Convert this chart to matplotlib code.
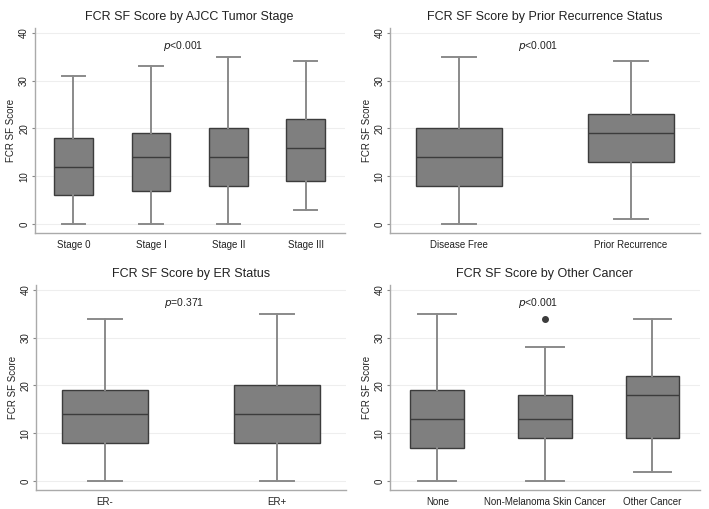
import matplotlib
matplotlib.use('Agg')
import matplotlib.pyplot as plt

plt.rcParams['font.family'] = ['Liberation Sans', 'DejaVu Sans']

# five-number summaries: low whisker, q1, median, q3, high whisker
stage_labels = ['Stage 0', 'Stage I', 'Stage II', 'Stage III']
stage_stats = [[0, 6, 12, 18, 31], [0, 7, 14, 19, 33], [0, 8, 14, 20, 35], [3, 9, 16, 22, 34]]

recur_labels = ['Disease Free', 'Prior Recurrence']
recur_stats = [[0, 8, 14, 20, 35], [1, 13, 19, 23, 34]]

er_labels = ['ER-', 'ER+']
er_stats = [[0, 8, 14, 19, 34], [0, 8, 14, 20, 35]]

cancer_labels = ['None', 'Non-Melanoma Skin Cancer', 'Other Cancer']
cancer_stats = [[0, 7, 13, 19, 35], [0, 9, 13, 18, 28], [2, 9, 18, 22, 34]]
cancer_outliers = [[], [34], []]

panels = [
    ('FCR SF Score by AJCC Tumor Stage', stage_labels, stage_stats, None, 'p', '<0.001',
     [0.049, 0.542, 0.437, 0.403], 0.3),
    ('FCR SF Score by Prior Recurrence Status', recur_labels, recur_stats, None, 'p', '<0.001',
     [0.550, 0.542, 0.437, 0.403], 0.2),
    ('FCR SF Score by ER Status', er_labels, er_stats, None, 'p', '=0.371',
     [0.051, 0.037, 0.437, 0.403], 0.2),
    ('FCR SF Score by Other Cancer', cancer_labels, cancer_stats, cancer_outliers, 'p', '<0.001',
     [0.550, 0.037, 0.437, 0.403], 0.35),
]

fig = plt.figure(figsize=(7.09, 5.09), dpi=100)

for title, labels, stats, outliers, pchar, ptext, rect, cap in panels:
    ax = fig.add_axes(rect)
    n = len(labels)
    bxp = []
    for i in range(n):
        s = stats[i]
        bxp.append({'whislo': s[0], 'q1': s[1], 'med': s[2], 'q3': s[3], 'whishi': s[4],
                    'fliers': outliers[i] if outliers else [], 'label': labels[i]})
    ax.bxp(bxp, positions=range(1, n + 1), widths=0.5, patch_artist=True,
           capwidths=cap,
           boxprops=dict(facecolor='#7f7f7f', edgecolor='#3c3c3c', linewidth=1.0),
           medianprops=dict(color='#3c3c3c', linewidth=1.0),
           whiskerprops=dict(color='#8a8a8a', linewidth=1.4),
           capprops=dict(color='#8a8a8a', linewidth=1.4),
           flierprops=dict(marker='o', markerfacecolor='#3c3c3c', markeredgecolor='#3c3c3c',
                           markersize=4))
    pad = 0.5 if n == 4 else (0.44 if n == 3 else 0.4)
    ax.set_xlim(1 - pad, n + pad)
    ax.set_ylim(-1.9, 41)
    ax.set_yticks([0, 10, 20, 30, 40])
    ax.set_yticklabels(['0', '10', '20', '30', '40'], rotation=90, va='center')
    ax.grid(axis='y', color='#eeeeee', linewidth=0.8)
    ax.set_axisbelow(True)
    for side in ['top', 'right']:
        ax.spines[side].set_visible(False)
    for side in ['left', 'bottom']:
        ax.spines[side].set_color('#aaaaaa')
        ax.spines[side].set_linewidth(1.0)
    ax.tick_params(axis='both', labelsize=7, colors='#888888', labelcolor='#222222')
    ax.tick_params(axis='y', length=2.5, pad=1.5)
    ax.tick_params(axis='x', length=0, pad=5)
    ax.set_ylabel('FCR SF Score', fontsize=7, color='#222222', labelpad=2)
    ax.set_title(title, fontsize=9, color='#222222', pad=6)
    ax.text((1 + n) / 2 - 0.02 * n, 37.3, r'$\it{' + pchar + '}$' + ptext,
            ha='center', va='center', fontsize=7.5, color='#222222')

fig.savefig('out.png', dpi=100, facecolor='white')
